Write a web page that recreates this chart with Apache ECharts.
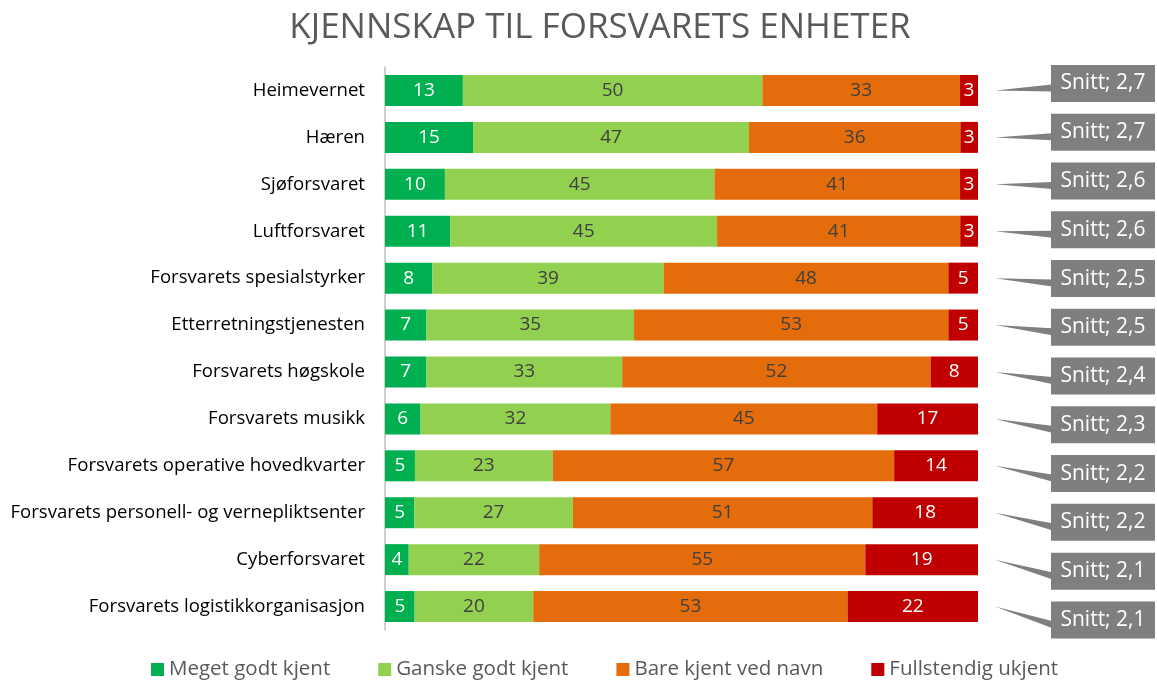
<!DOCTYPE html>
<html>
<head>
<meta charset="utf-8">
<script src="https://cdn.jsdelivr.net/npm/echarts@6/dist/echarts.min.js"></script>
<style>
  html, body { margin: 0; padding: 0; background: #fff; }
  #main { width: 1157px; height: 682px; }
</style>
</head>
<body>
<div id="main"></div>
<script>
var categories = [
  'Heimevernet', 'Hæren', 'Sjøforsvaret', 'Luftforsvaret',
  'Forsvarets spesialstyrker', 'Etterretningstjenesten', 'Forsvarets høgskole',
  'Forsvarets musikk', 'Forsvarets operative hovedkvarter',
  'Forsvarets personell- og vernepliktsenter', 'Cyberforsvaret',
  'Forsvarets logistikkorganisasjon'
];
var seriesNames = ['Meget godt kjent', 'Ganske godt kjent', 'Bare kjent ved navn', 'Fullstendig ukjent'];
var megetGodt   = [13, 15, 10, 11, 8, 7, 7, 6, 5, 5, 4, 5];
var ganskeGodt  = [50, 47, 45, 45, 39, 35, 33, 32, 23, 27, 22, 20];
var bareNavn    = [33, 36, 41, 41, 48, 53, 52, 45, 57, 51, 55, 53];
var ukjent      = [3, 3, 3, 3, 5, 5, 8, 17, 14, 18, 19, 22];
var snitt       = [2.7, 2.7, 2.6, 2.6, 2.5, 2.5, 2.4, 2.3, 2.2, 2.2, 2.1, 2.1];

var colors = ['#00B050', '#92D050', '#E46C0A', '#C00000'];
var labelColors = ['#ffffff', '#404040', '#404040', '#ffffff'];
var raw = [megetGodt, ganskeGodt, bareNavn, ukjent];

// 100% stablet: normaliser hver rad, vis råverdien som etikett
var sums = categories.map(function (c, i) {
  return raw[0][i] + raw[1][i] + raw[2][i] + raw[3][i];
});

var font = '"Open Sans", "Noto Sans", sans-serif';

var series = raw.map(function (arr, s) {
  return {
    name: seriesNames[s],
    type: 'bar',
    stack: 'total',
    barWidth: 31,
    itemStyle: { color: colors[s] },
    label: {
      show: true,
      position: 'inside',
      color: labelColors[s],
      fontSize: 19,
      fontFamily: font,
      formatter: function (p) { return arr[p.dataIndex]; }
    },
    data: arr.map(function (v, i) { return v / sums[i] * 100; })
  };
});

series.push({
  name: 'snitt',
  type: 'custom',
  silent: true,
  z: 10,
  renderItem: function (params, api) {
    var idx = api.value(0);
    var end = api.coord([100, idx]);
    var tipX = end[0] + 17, tipY = end[1];
    var boxL = tipX + 56, boxW = 104, boxH = 37;
    var boxCY = tipY - 7 + idx * 1.85;
    var boxT = boxCY - boxH / 2;
    var txt = 'Snitt; ' + String(api.value(1)).replace('.', ',');
    return {
      type: 'group',
      children: [
        {
          type: 'polygon',
          shape: { points: [[tipX, tipY], [boxL + 1, boxCY + 1], [boxL + 1, boxCY + 8]] },
          style: { fill: '#7F7F7F' }
        },
        {
          type: 'rect',
          shape: { x: boxL, y: boxT, width: boxW, height: boxH },
          style: { fill: '#7F7F7F' }
        },
        {
          type: 'text',
          style: {
            x: boxL + boxW / 2, y: boxCY,
            text: txt, fill: '#ffffff',
            font: '21px ' + font,
            align: 'center', verticalAlign: 'middle'
          }
        }
      ]
    };
  },
  encode: { y: 0, x: 1 },
  data: snitt.map(function (v, i) { return [i, v]; })
});

var chart = echarts.init(document.getElementById('main'));
chart.setOption({
  animation: false,
  title: {
    text: 'KJENNSKAP TIL FORSVARETS ENHETER',
    left: 595, top: 6,
    textAlign: 'center',
    textStyle: { fontFamily: font, fontSize: 35, fontWeight: 'normal', color: '#595959' }
  },
  legend: {
    data: seriesNames,
    top: 654,
    left: 146,
    icon: 'rect',
    itemWidth: 13, itemHeight: 13,
    itemGap: 48,
    itemStyle: { borderWidth: 0 },
    textStyle: { fontFamily: font, fontSize: 20.5, color: '#595959' }
  },
  grid: { left: 385, right: 179, top: 67, bottom: 52 },
  xAxis: {
    type: 'value', min: 0, max: 100, show: false
  },
  yAxis: {
    type: 'category',
    data: categories,
    inverse: true,
    axisLine: { show: true, lineStyle: { color: '#BFBFBF', width: 1.5 } },
    axisTick: { show: false },
    axisLabel: { fontFamily: font, fontSize: 18.6, color: '#000000', margin: 20 }
  },
  series: series
});
</script>
</body>
</html>
